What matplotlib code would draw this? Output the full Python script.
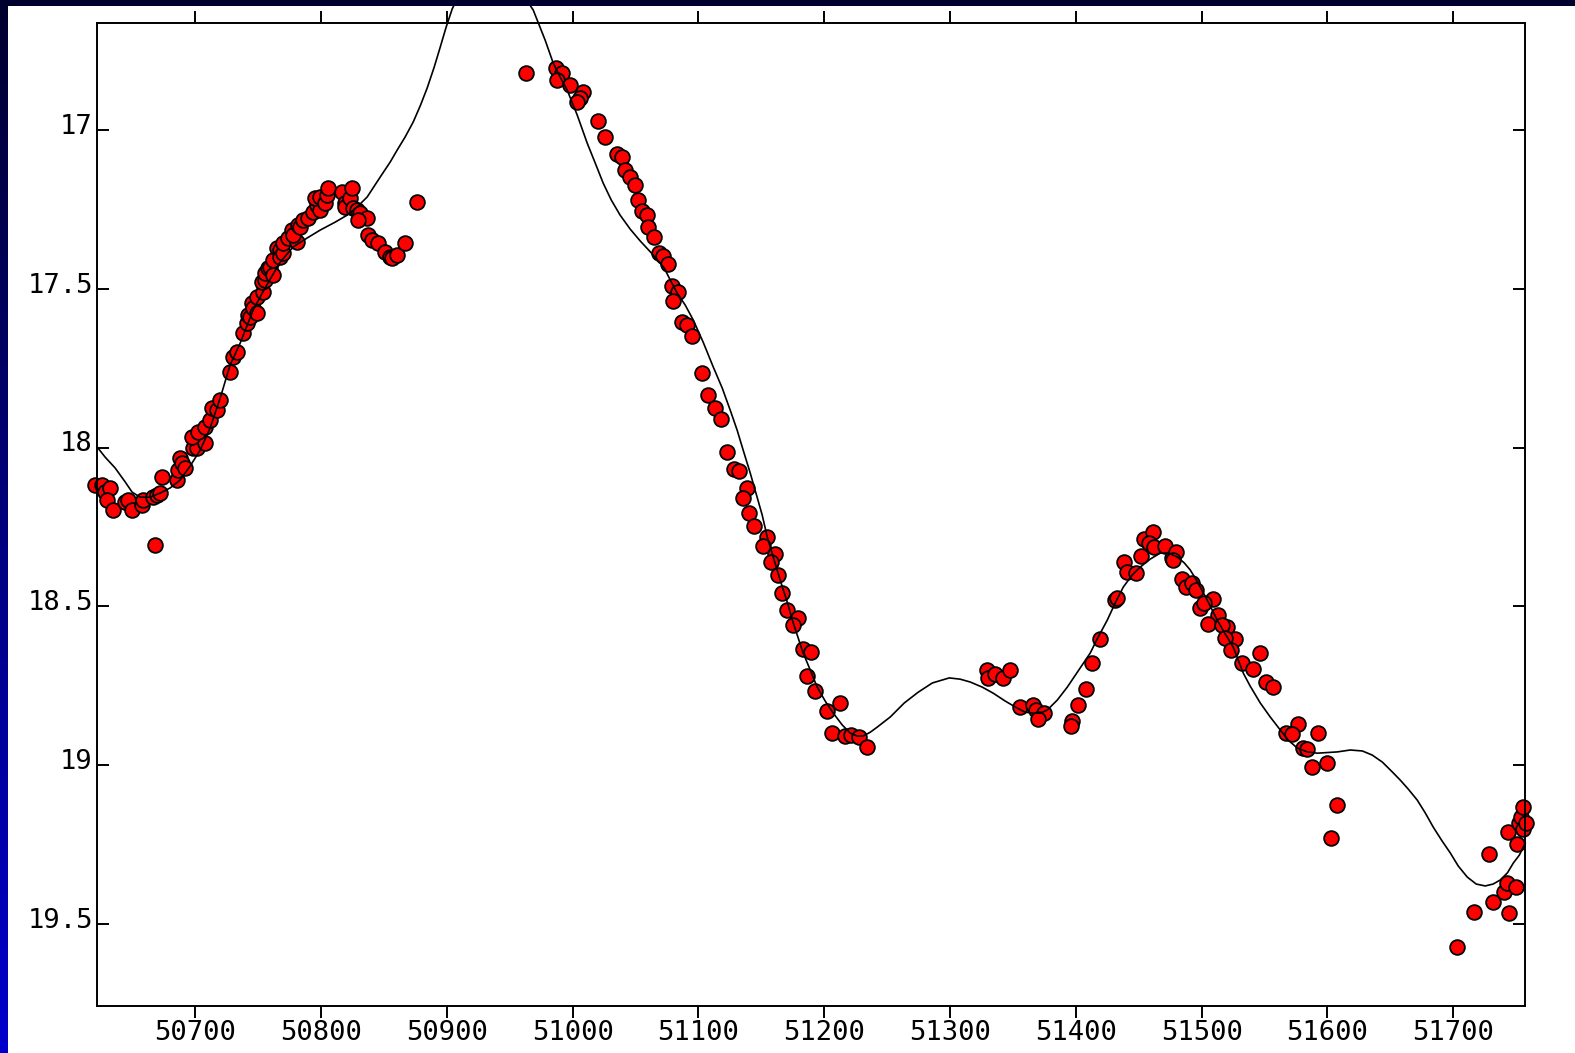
import numpy as np
import matplotlib
matplotlib.use('Agg')
import matplotlib.pyplot as plt
from matplotlib.patches import Rectangle
from matplotlib.colors import LinearSegmentedColormap
from matplotlib.transforms import ScaledTranslation

# Photometry: date (MJD) and magnitude
mjd = [50620.5, 50626.1, 50628.4, 50632.4, 50630.0, 50634.8, 50644.4, 50646.7, 50649.9, 50657.9,
       50658.7, 50666.6, 50669.8, 50672.2, 50673.8, 50668.2, 50685.7, 50686.5, 50688.1, 50689.7,
       50692.1, 50698.4, 50701.6, 50707.9, 50697.6, 50702.4, 50707.9, 50711.9, 50713.5, 50717.5,
       50719.9, 50727.8, 50730.2, 50733.4, 50738.2, 50741.3, 50742.1, 50743.7, 50745.3, 50746.1,
       50749.3, 50749.3, 50754.1, 50753.3, 50755.6, 50755.6, 50758.0, 50759.6, 50762.0, 50762.0,
       50765.2, 50767.6, 50767.6, 50770.0, 50770.0, 50773.9, 50777.1, 50781.1, 50777.9, 50781.9,
       50783.5, 50785.9, 50789.8, 50793.8, 50797.0, 50799.4, 50795.4, 50799.4, 50803.3, 50804.9,
       50805.7, 50816.9, 50819.2, 50819.2, 50823.2, 50824.8, 50825.6, 50828.8, 50831.2, 50836.7,
       50829.6, 50837.5, 50840.7, 50845.5, 50851.0, 50855.0, 50856.6, 50860.6, 50866.9, 50876.5,
       50963.1, 50987.0, 50991.8, 50987.8, 50998.1, 51008.5, 51006.1, 51003.7, 51020.4, 51026.0,
       51035.5, 51039.5, 51041.9, 51045.8, 51049.8, 51052.2, 51055.4, 51059.3, 51060.1, 51064.9,
       51068.9, 51072.1, 51076.0, 51079.2, 51084.0, 51080.0, 51087.2, 51091.1, 51095.1, 51103.1,
       51107.8, 51113.4, 51118.2, 51122.9, 51128.5, 51132.5, 51138.8, 51135.7, 51140.4, 51144.4,
       51154.7, 51151.6, 51161.1, 51157.9, 51163.5, 51166.7, 51170.6, 51179.4, 51175.4, 51183.4,
       51189.7, 51186.5, 51192.9, 51212.8, 51202.4, 51206.4, 51216.8, 51221.5, 51227.9, 51234.2,
       51329.6, 51330.4, 51336.0, 51342.4, 51347.9, 51355.9, 51366.2, 51368.6, 51375.0, 51370.2,
       51397.2, 51396.4, 51402.0, 51408.3, 51413.1, 51419.5, 51431.4, 51433.0, 51438.6, 51440.9,
       51448.1, 51452.1, 51454.5, 51461.6, 51458.4, 51462.4, 51471.2, 51476.7, 51479.9, 51477.5,
       51484.7, 51487.8, 51492.6, 51495.8, 51499.0, 51509.3, 51502.2, 51513.3, 51505.3, 51520.4,
       51516.5, 51526.8, 51518.9, 51523.6, 51546.7, 51532.4, 51541.1, 51551.5, 51557.0, 51576.9,
       51567.3, 51572.1, 51592.8, 51580.9, 51584.0, 51588.0, 51599.9, 51607.9, 51603.1,
       51703.3, 51716.8, 51731.9, 51744.6, 51728.7, 51740.7, 51743.0, 51750.2, 51751.0, 51743.8,
       51752.6, 51755.8, 51754.2, 51757.4, 51755.8]
mag = [18.118, 18.118, 18.140, 18.127, 18.165, 18.196, 18.171, 18.165, 18.196, 18.181,
       18.165, 18.156, 18.149, 18.143, 18.093, 18.307, 18.102, 18.071, 18.033, 18.048,
       18.064, 18.001, 18.001, 17.986, 17.967, 17.951, 17.935, 17.913, 17.875, 17.882,
       17.850, 17.762, 17.715, 17.699, 17.639, 17.608, 17.582, 17.589, 17.545, 17.560,
       17.576, 17.526, 17.510, 17.479, 17.472, 17.450, 17.435, 17.431, 17.457, 17.409,
       17.372, 17.378, 17.400, 17.387, 17.356, 17.340, 17.315, 17.353, 17.331, 17.299,
       17.305, 17.283, 17.277, 17.258, 17.236, 17.252, 17.214, 17.211, 17.230, 17.205,
       17.183, 17.195, 17.230, 17.242, 17.214, 17.183, 17.246, 17.252, 17.261, 17.277,
       17.283, 17.331, 17.346, 17.356, 17.384, 17.400, 17.403, 17.394, 17.356, 17.227,
       16.821, 16.805, 16.821, 16.843, 16.858, 16.880, 16.899, 16.912, 16.972, 17.022,
       17.076, 17.085, 17.126, 17.148, 17.173, 17.220, 17.255, 17.268, 17.305, 17.337,
       17.387, 17.397, 17.422, 17.491, 17.510, 17.538, 17.605, 17.614, 17.649, 17.765,
       17.834, 17.875, 17.910, 18.014, 18.067, 18.074, 18.127, 18.159, 18.206, 18.247,
       18.281, 18.310, 18.335, 18.360, 18.401, 18.458, 18.511, 18.537, 18.559, 18.634,
       18.644, 18.719, 18.767, 18.804, 18.829, 18.899, 18.908, 18.905, 18.911, 18.943,
       18.700, 18.725, 18.713, 18.725, 18.700, 18.817, 18.811, 18.826, 18.836, 18.855,
       18.861, 18.877, 18.811, 18.760, 18.678, 18.603, 18.480, 18.474, 18.360, 18.392,
       18.395, 18.341, 18.288, 18.266, 18.300, 18.313, 18.310, 18.348, 18.329, 18.354,
       18.414, 18.439, 18.426, 18.448, 18.505, 18.477, 18.489, 18.527, 18.555, 18.565,
       18.559, 18.603, 18.600, 18.637, 18.647, 18.678, 18.697, 18.738, 18.754, 18.870,
       18.899, 18.902, 18.899, 18.946, 18.949, 19.006, 18.993, 19.125, 19.229,
       19.572, 19.462, 19.431, 19.465, 19.280, 19.399, 19.371, 19.384, 19.248, 19.210,
       19.182, 19.201, 19.163, 19.182, 19.132]

# Smooth model light curve
fit_mjd = [50622.1, 50628.5, 50636.4, 50644.4, 50649.9, 50656.3, 50664.2, 50672.2, 50680.1, 50688.1,
           50696.0, 50704.0, 50711.9, 50719.9, 50727.8, 50735.8, 50746.1, 50755.6, 50767.6, 50777.9,
           50789.0, 50799.4, 50811.3, 50820.8, 50828.8, 50836.7, 50847.1, 50855.0, 50860.6, 50866.9,
           50873.3, 50878.9, 50884.4, 50890.0, 50894.8, 50899.5, 50904.3, 50910.7, 50918.6, 50930.5,
           50942.5, 50954.4, 50962.3, 50968.7, 50978.2, 50984.6, 50990.1, 50995.7, 51003.7, 51011.6,
           51018.0, 51024.3, 51030.7, 51037.8, 51045.8, 51053.7, 51063.3, 51072.8, 51077.6, 51083.1,
           51089.5, 51095.9, 51103.8, 51111.8, 51118.9, 51125.3, 51130.8, 51135.6, 51141.2, 51146.7,
           51150.7, 51154.7, 51159.5, 51165.0, 51170.6, 51175.4, 51179.3, 51183.3, 51188.9, 51194.4,
           51200.8, 51207.2, 51214.3, 51220.7, 51226.2, 51231.0, 51236.6, 51242.1, 51252.5, 51263.6,
           51274.7, 51285.9, 51299.4, 51308.1, 51316.1, 51325.6, 51334.3, 51343.9, 51353.4, 51359.8,
           51366.1, 51371.7, 51377.3, 51385.2, 51393.2, 51401.9, 51411.4, 51417.8, 51425.0, 51431.3,
           51437.7, 51444.8, 51451.2, 51459.1, 51467.1, 51473.5, 51480.6, 51486.2, 51490.9, 51494.9,
           51498.9, 51505.2, 51512.4, 51518.8, 51525.1, 51529.1, 51533.1, 51538.6, 51546.6, 51554.5,
           51562.5, 51568.9, 51576.0, 51584.0, 51591.9, 51607.8, 51618.1, 51627.7, 51635.6, 51643.6,
           51651.5, 51657.9, 51664.2, 51671.4, 51677.7, 51684.1, 51691.2, 51697.6, 51703.9, 51711.1,
           51718.2, 51725.4, 51731.7, 51737.4, 51743.0, 51747.7, 51752.5, 51757.2]
fit_mag = [17.998, 18.030, 18.064, 18.108, 18.140, 18.156, 18.156, 18.143, 18.127, 18.102,
           18.058, 18.008, 17.938, 17.844, 17.740, 17.671, 17.567, 17.497, 17.416, 17.368,
           17.340, 17.315, 17.290, 17.268, 17.242, 17.211, 17.148, 17.101, 17.063, 17.022,
           16.975, 16.924, 16.868, 16.802, 16.739, 16.676, 16.619, 16.565, 16.534, 16.512,
           16.512, 16.543, 16.584, 16.622, 16.717, 16.789, 16.833, 16.874, 16.953, 17.041,
           17.104, 17.167, 17.220, 17.268, 17.312, 17.349, 17.390, 17.434, 17.472, 17.513,
           17.551, 17.598, 17.668, 17.746, 17.812, 17.882, 17.945, 18.008, 18.080, 18.156,
           18.212, 18.281, 18.344, 18.417, 18.486, 18.552, 18.599, 18.647, 18.700, 18.754,
           18.798, 18.836, 18.873, 18.899, 18.908, 18.908, 18.896, 18.880, 18.848, 18.804,
           18.770, 18.741, 18.725, 18.729, 18.738, 18.754, 18.773, 18.798, 18.820, 18.833,
           18.836, 18.836, 18.826, 18.795, 18.754, 18.703, 18.647, 18.596, 18.543, 18.489,
           18.439, 18.401, 18.376, 18.351, 18.332, 18.332, 18.344, 18.363, 18.385, 18.411,
           18.439, 18.486, 18.543, 18.587, 18.628, 18.669, 18.710, 18.751, 18.804, 18.848,
           18.889, 18.921, 18.946, 18.958, 18.962, 18.958, 18.952, 18.955, 18.968, 18.990,
           19.021, 19.047, 19.075, 19.110, 19.150, 19.195, 19.239, 19.276, 19.317, 19.352,
           19.374, 19.380, 19.374, 19.361, 19.339, 19.308, 19.283, 19.245]

xticks = [50700, 50800, 50900, 51000, 51100, 51200, 51300, 51400, 51500, 51600, 51700]
yticks = [17, 17.5, 18, 18.5, 19, 19.5]
ytick_labels = ['17', '17.5', '18', '18.5', '19', '19.5']

W, H = 1575, 1053
fig = plt.figure(figsize=(W / 100, H / 100), dpi=100, facecolor='white')

# slide frame: dark band on top, blue gradient down the left edge
edge = fig.add_axes([0, 0, 8 / W, 1])
grad = np.linspace(0, 1, 256).reshape(-1, 1)
cmap = LinearSegmentedColormap.from_list('frame', ['#00002e', '#0000cc'])
edge.imshow(grad, aspect='auto', cmap=cmap, extent=[0, 1, 1, 0])
edge.set_axis_off()
fig.patches.append(Rectangle((0, 1 - 6 / H), 1, 6 / H, transform=fig.transFigure,
                             facecolor='#00002e', edgecolor='none', zorder=5))

ax = fig.add_axes([97 / W, 47 / H, (1525 - 97) / W, (1030 - 47) / H])
ax.plot(mjd, mag, 'o', ms=10.6, mfc='#ff0000', mec='black', mew=1.3,
        clip_on=False, zorder=2)
ax.plot(fit_mjd, fit_mag, '-', color='black', lw=1.2, clip_on=False, zorder=3)

ax.set_xlim(50622, 51757)
ax.set_ylim(19.758, 16.663)

mono = 'DejaVu Sans Mono'
ax.set_xticks(xticks)
ax.set_xticklabels([str(t) for t in xticks], family=mono, fontsize=19.5)
ax.set_yticks(yticks)
ax.set_yticklabels(ytick_labels, family=mono, fontsize=19.5)
ax.tick_params(axis='x', which='both', direction='out', top=True, bottom=True,
               length=8.5, width=1.4, pad=1.5, colors='black')
ax.tick_params(axis='y', which='both', direction='in', left=True, right=True,
               length=8.5, width=1.4, pad=3, colors='black')
for s in ax.spines.values():
    s.set_linewidth(1.4)

shift = ScaledTranslation(0, 4.5 / 72, fig.dpi_scale_trans)
for lbl in ax.get_yticklabels():
    lbl.set_transform(lbl.get_transform() + shift)

fig.savefig('out.png', dpi=100, facecolor='white')
